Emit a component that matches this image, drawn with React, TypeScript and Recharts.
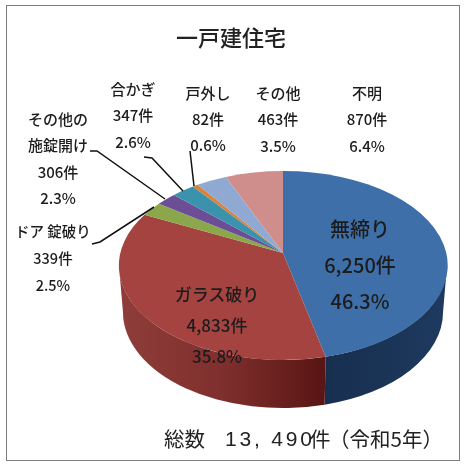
import React from "react";
import { PieChart, Pie } from "recharts";

const names = ["無締り", "ガラス破り", "ドア錠破り", "その他の施錠開け", "合かぎ", "戸外し", "その他", "不明"];
const counts = [6250, 4833, 339, 306, 347, 82, 463, 870];
const percents = ["46.3%", "35.8%", "2.5%", "2.3%", "2.6%", "0.6%", "3.5%", "6.4%"];
const topColors = ["#3f6fa8", "#a54341", "#8aa84b", "#6b4e95", "#3a92ad", "#d8823a", "#90a9d3", "#cf8e8c"];
const sideColors = ["url(#blueSide)", "url(#redSide)", "#5f7533", "#4a3668", "#28667a", "#975a28", "#647693", "#906362"];

const chartData = names.map((name, i) => ({ name, value: counts[i] }));

// label text lines and where they sit, name lines split as in the picture
const labelLines = [["無締り"], ["ガラス破り"], ["ドア 錠破り"], ["その他の", "施錠開け"], ["合かぎ"], ["戸外し"], ["その他"], ["不明"]];
const labelX = [360, 217, 53, 58, 133, 208, 278, 367];
const labelY = [228, 293, 230, 118, 88, 92, 92, 92];
const labelGap = [36, 31, 27, 26.5, 26.5, 26, 26.5, 26.5];
const labelSize = [20, 17, 14.5, 15, 15, 15, 15, 15];
const leaderLines = [
  null,
  null,
  "M92 244 L100 242 L154 207",
  "M90 151 L97 151 L165 199",
  "M144 157 L152 158 L183 191",
  "M190 151 L194 186",
  null,
  null,
];

// perspective tilt: the rim circle goes through a homography, so the apex sits above
// the centre of the rim ellipse and the front slices open up
const TILT = 0.1323;
const PROJ_RX = 162.6 / 164;
const PROJ_RY = 92.9 / 164;
const RIM_RY = 94.5 / 164;
const RIM_CY_OFFSET = 12.5;
const BOTTOM_CY_OFFSET = 59;
const BOTTOM_RX = 160 / 164;
const BOTTOM_RY = 96 / 164;
const HORIZON = (Math.asin(TILT) * 180) / Math.PI;
const FONT = "'Noto Sans CJK JP', 'Noto Sans', sans-serif";

const rim = (cx: number, cy: number, r: number, angle: number, bottom = false) => {
  const a = (angle * Math.PI) / 180;
  const w = 1 + TILT * Math.sin(a);
  const x = cx + (r * PROJ_RX * Math.cos(a)) / w;
  const y = cy - (r * PROJ_RY * Math.sin(a)) / w;
  if (!bottom) return { x, y };
  const rimCy = cy + RIM_CY_OFFSET;
  return {
    x: cx + (x - cx) * BOTTOM_RX,
    y: cy + BOTTOM_CY_OFFSET + ((y - rimCy) * BOTTOM_RY) / RIM_RY,
  };
};

const TopSlice = (props: any) => {
  const { cx, cy, outerRadius: r, startAngle, endAngle, index } = props;
  const p1 = rim(cx, cy, r, startAngle);
  const p2 = rim(cx, cy, r, endAngle);
  const large = Math.abs(startAngle - endAngle) > 180 ? 1 : 0;
  const d = `M${cx} ${cy} L${p1.x} ${p1.y} A${r} ${r * RIM_RY} 0 ${large} 1 ${p2.x} ${p2.y} Z`;
  return <path d={d} fill={topColors[index]} stroke="none" />;
};

// only the front of the wall shows, below the horizon points of the rim
const SideSlice = (props: any) => {
  const { cx, cy, outerRadius: r, startAngle, endAngle, index } = props;
  const from = Math.min(startAngle, -HORIZON);
  const to = Math.max(endAngle, -180 + HORIZON);
  if (from <= to) return <g />;
  const a = rim(cx, cy, r, from);
  const b = rim(cx, cy, r, to);
  const c = rim(cx, cy, r, to, true);
  const e = rim(cx, cy, r, from, true);
  const d =
    `M${a.x} ${a.y} A${r} ${r * RIM_RY} 0 0 1 ${b.x} ${b.y} L${c.x} ${c.y} ` +
    `A${r * BOTTOM_RX} ${r * BOTTOM_RY} 0 0 0 ${e.x} ${e.y} Z`;
  return <path d={d} fill={sideColors[index]} stroke="none" />;
};

const renderLabel = (props: any) => {
  const i = props.index;
  const lines = [...labelLines[i], `${counts[i].toLocaleString("en-US")}件`, percents[i]];
  return (
    <g key={i}>
      {leaderLines[i] && <path d={leaderLines[i]!} fill="none" stroke="#111" strokeWidth={1.5} />}
      {lines.map((line, n) => (
        <text
          key={n}
          x={labelX[i]}
          y={labelY[i] + n * labelGap[i]}
          textAnchor="middle"
          dominantBaseline="central"
          fontSize={labelSize[i]}
          fontWeight={500}
          fontFamily={FONT}
          fill="#1c1c1c"
        >
          {line}
        </text>
      ))}
    </g>
  );
};

export default function App() {
  return (
    <div style={{ position: "absolute", left: 0, top: 0, width: 466, height: 465, background: "#fff", overflow: "hidden" }}>
      <div
        style={{
          position: "absolute",
          left: 6,
          top: 5,
          width: 454,
          height: 456,
          boxSizing: "border-box",
          border: "1.5px solid #7d7d7d",
        }}
      />
      <div style={{ position: "absolute", left: 0, top: 0, filter: "blur(0.5px)" }}>
        <PieChart width={466} height={465} margin={{ top: 0, right: 0, bottom: 0, left: 0 }}>
          <defs>
            <linearGradient id="redSide" gradientUnits="userSpaceOnUse" x1="119" y1="0" x2="326" y2="0">
              <stop offset="0%" stopColor="#8f3d3b" />
              <stop offset="50%" stopColor="#7f2f2d" />
              <stop offset="100%" stopColor="#581513" />
            </linearGradient>
            <linearGradient id="blueSide" gradientUnits="userSpaceOnUse" x1="326" y1="0" x2="447" y2="0">
              <stop offset="0%" stopColor="#172f4f" />
              <stop offset="100%" stopColor="#1e3a5f" />
            </linearGradient>
          </defs>
          <Pie
            data={chartData}
            dataKey="value"
            nameKey="name"
            cx={283}
            cy={253}
            innerRadius={0}
            outerRadius={164}
            startAngle={90}
            endAngle={-270}
            stroke="none"
            isAnimationActive={false}
            shape={SideSlice}
          />
          <Pie
            data={chartData}
            dataKey="value"
            nameKey="name"
            cx={283}
            cy={253}
            innerRadius={0}
            outerRadius={164}
            startAngle={90}
            endAngle={-270}
            stroke="none"
            isAnimationActive={false}
            shape={TopSlice}
            label={renderLabel}
            labelLine={false}
          />
          <text x={231} y={36} textAnchor="middle" dominantBaseline="central" fontSize={22} fontWeight={500} fontFamily={FONT} fill="#222">
            一戸建住宅
          </text>
          <text y={438} dominantBaseline="central" fontSize={20.5} fontFamily={FONT} fill="#222">
            <tspan x={164}>総数</tspan>
            <tspan x={225} fontFamily="'Liberation Sans', sans-serif" fontSize={21} textLength={87}>
              13, 490
            </tspan>
            <tspan x={310}>件</tspan>
            <tspan x={329}>（令和5年）</tspan>
          </text>
        </PieChart>
      </div>
    </div>
  );
}
